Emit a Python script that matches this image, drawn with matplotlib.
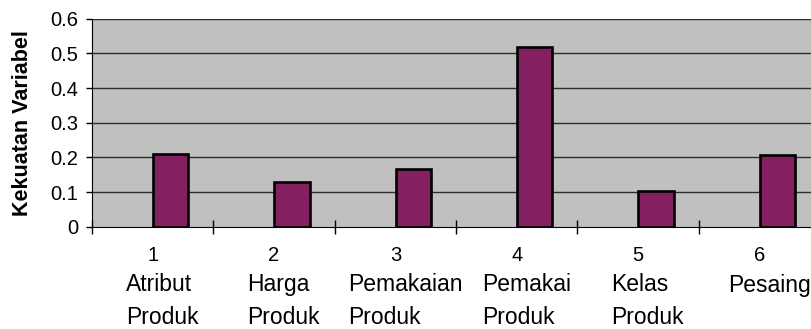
import matplotlib.pyplot as plt
import matplotlib.transforms as mtransforms
import numpy as np

plt.rcParams['font.family'] = ['Liberation Sans', 'DejaVu Sans']

nomor = ['1', '2', '3', '4', '5', '6']
variabel = ['Atribut\nProduk', 'Harga\nProduk', 'Pemakaian\nProduk',
            'Pemakai\nProduk', 'Kelas\nProduk', 'Pesaing']
kekuatan = [0.209, 0.129, 0.166, 0.517, 0.104, 0.206]

W, H = 812, 329
fig = plt.figure(figsize=(W / 100, H / 100), dpi=100)
ax = fig.add_axes([92 / W, 1 - 226.7 / H, (820 - 92) / W, (226.7 - 18.7) / H])
ax.set_facecolor('#C0C0C0')

x = np.arange(len(kekuatan))
ax.bar(x + 0.148, kekuatan, width=0.29, color='#841F60', edgecolor='black',
       linewidth=1.9, zorder=3)

for v in np.arange(0.1, 0.61, 0.1):
    ax.axhline(v, color='#2e2e2e', linewidth=1.0, zorder=1)

ax.set_xlim(-0.5, len(kekuatan) - 0.5)
ax.set_ylim(0, 0.6)
ax.set_yticks(np.arange(0, 0.61, 0.1))
ax.set_yticklabels(['0', '0.1', '0.2', '0.3', '0.4', '0.5', '0.6'], fontsize=14.5)
ax.tick_params(axis='y', direction='out', length=4.3, width=1, pad=5.5)

ax.set_xticks(np.arange(-0.5, len(kekuatan) + 0.5, 1))
ax.set_xticklabels([])
ax.tick_params(axis='x', direction='inout', length=9.4, width=1)

# category labels: number centred, name block below it (left-aligned lines)
trans = ax.get_xaxis_transform()
for i, (n, v) in enumerate(zip(nomor, variabel)):
    off_n = mtransforms.offset_copy(trans, fig=fig, x=0, y=-29, units='dots')
    ax.text(i, 0, n, transform=off_n, ha='center', va='center', fontsize=14.5)
    baris = v.count('\n')
    off_v = mtransforms.offset_copy(trans, fig=fig, x=0, y=-65.3 - 32 * baris,
                                    units='dots')
    ax.text(i + 0.08, 0, v, transform=off_v, ha='center', va='baseline',
            multialignment='left', fontsize=16.5, linespacing=1.57)

for s in ['top', 'right']:
    ax.spines[s].set_visible(False)
ax.spines['left'].set_color('black')
ax.spines['bottom'].set_color('black')

ax.set_ylabel('Kekuatan Variabel', fontsize=15.5, fontweight='bold')
ax.yaxis.set_label_coords(-0.081, 0.5)

fig.savefig('out.png', dpi=100)
